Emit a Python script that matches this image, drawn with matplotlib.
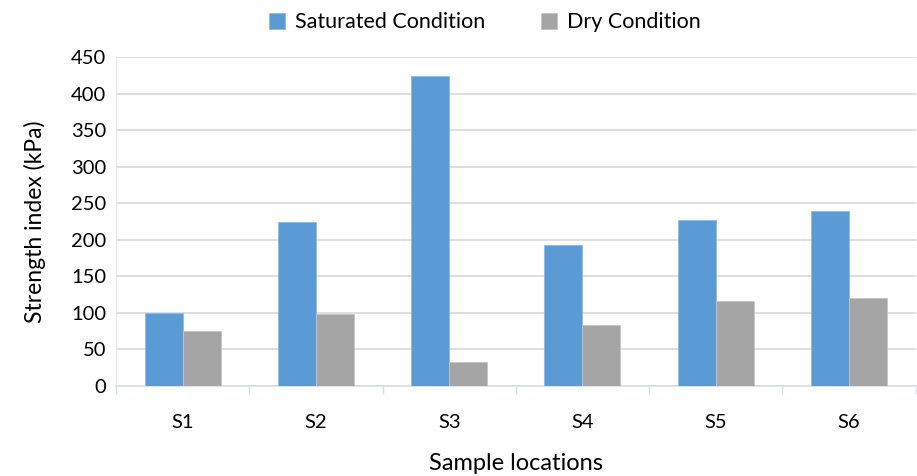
import numpy as np
import matplotlib
matplotlib.use("Agg")
import matplotlib.pyplot as plt

# ---- data ----
locations = ["S1", "S2", "S3", "S4", "S5", "S6"]
saturated = [100, 225, 424, 193, 227, 239]
dry = [75, 99, 33, 83, 116, 120]

plt.rcParams["font.family"] = ["Lato", "DejaVu Sans"]

fig = plt.figure(figsize=(9.17, 4.76), dpi=100)
ax = fig.add_axes([0.1265, 0.189, 0.872, 0.691])

x = np.arange(len(locations))
w = 0.285
ax.bar(x - w / 2, saturated, w, color="#5B9BD5", edgecolor="#8DBBE6",
       linewidth=0.6, label="Saturated Condition", zorder=3)
ax.bar(x + w / 2, dry, w, color="#A5A5A5", edgecolor="#C4C4C4",
       linewidth=0.6, label="Dry Condition", zorder=3)

ax.set_xlim(-0.5, len(locations) - 0.5)
ax.set_ylim(0, 450)
ax.set_yticks(range(0, 451, 50))
ax.set_xticks(x)
ax.set_xticklabels(locations)

# category divider ticks along the bottom axis
ax.set_xticks(np.arange(-0.5, len(locations), 1.0), minor=True)
ax.tick_params(axis="x", which="major", length=0, pad=20, labelsize=14.5)
ax.tick_params(axis="x", which="minor", length=6, color="#D9DEE6", width=1)
ax.tick_params(axis="y", length=0, pad=7, labelsize=14.5)

ax.grid(axis="y", color="#D9D9D9", linewidth=1.2, zorder=0)
for side in ["top", "right"]:
    ax.spines[side].set_visible(False)
ax.spines["bottom"].set_color("#D9DEE6")
ax.spines["left"].set_color("#E4E8EE")
ax.spines["bottom"].set_linewidth(1.2)

ax.set_ylabel("Strength index (kPa)", fontsize=16.5, labelpad=18)
ax.set_xlabel("Sample locations", fontsize=17, labelpad=16)

ax.legend(loc="upper center", bbox_to_anchor=(0.461, 1.195), ncol=2,
          frameon=False, fontsize=15.5, handlelength=0.75, handleheight=0.75,
          columnspacing=2.6, handletextpad=0.45)

fig.savefig("out.png", dpi=100)
